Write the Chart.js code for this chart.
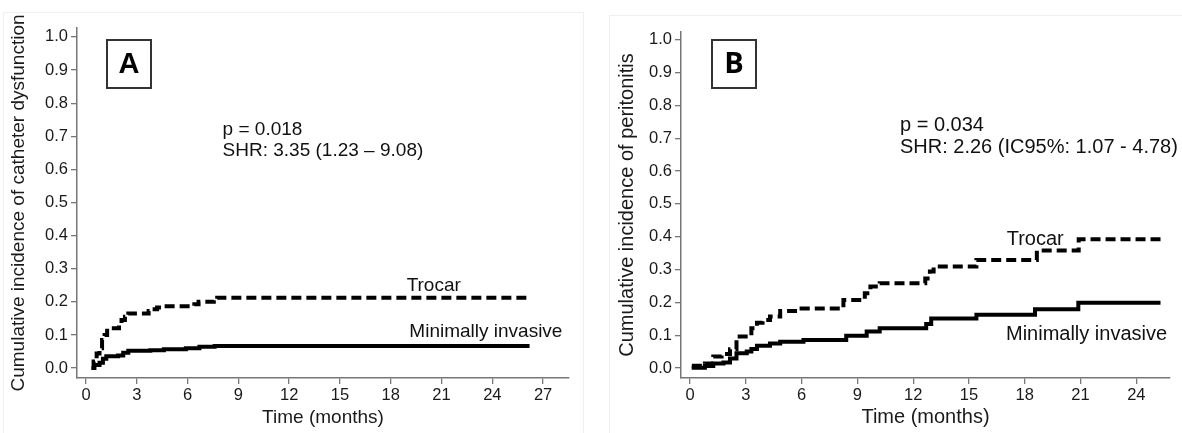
<!DOCTYPE html>
<html><head><meta charset="utf-8">
<script src="https://cdn.jsdelivr.net/npm/chart.js@4.4.1/dist/chart.umd.min.js"></script>
<style>
html,body{margin:0;padding:0;background:#fff;width:1182px;height:433px;overflow:hidden}
.p{position:absolute;top:0;width:591px;height:433px}
canvas{display:block}
</style></head><body>
<div class="p" style="left:0"><canvas id="a" width="591" height="433"></canvas></div>
<div class="p" style="left:591px"><canvas id="b" width="591" height="433"></canvas></div>
<script>
// ---- Data ----
const yTicks = [0,0.1,0.2,0.3,0.4,0.5,0.6,0.7,0.8,0.9,1.0];
const xTicksA = [0,3,6,9,12,15,18,21,24,27];
const xTicksB = [0,3,6,9,12,15,18,21,24];

const seriesNames = ['Trocar','Minimally invasive'];

const trocarA_t = [0.33,0.45,0.63,0.8,0.95,1.1,1.25,1.95,2.1,2.3,2.5,3.7,3.9,4.2,4.6,6.4,6.65,7.55,7.75,26.1];
const trocarA_v = [0,0.02,0.044,0.06,0.085,0.1,0.12,0.13,0.145,0.155,0.165,0.172,0.178,0.183,0.187,0.193,0.2,0.205,0.212,0.212];
const minA_t = [0.33,0.5,0.8,1.0,1.2,1.9,2.2,2.5,3.8,4.6,5.9,6.7,7.6,26.2];
const minA_v = [0,0.009,0.016,0.028,0.036,0.038,0.046,0.052,0.054,0.057,0.06,0.064,0.067,0.067];

const trocarB_t = [0.1,0.8,1.25,1.7,2.15,2.5,3.3,3.6,3.9,4.3,4.85,6.0,8.25,9.4,9.7,10.2,12.65,12.9,13.1,15.4,18.65,20.9,25.3];
const trocarB_v = [0.007,0.014,0.035,0.043,0.057,0.096,0.121,0.138,0.146,0.157,0.174,0.181,0.207,0.228,0.248,0.258,0.273,0.294,0.309,0.329,0.358,0.392,0.392];
const minB_t = [0.09,0.8,1.25,1.8,2.15,2.5,3.05,3.3,3.6,4.3,4.85,6.1,8.4,9.5,10.2,12.7,12.97,15.4,18.55,20.88,25.3];
const minB_v = [0.001,0.006,0.014,0.017,0.029,0.045,0.05,0.058,0.068,0.075,0.08,0.085,0.098,0.111,0.121,0.134,0.151,0.162,0.179,0.199,0.199];

const statsA = ['p = 0.018','SHR: 3.35 (1.23 \u2013 9.08)'];
const statsB = ['p = 0.034','SHR: 2.26 (IC95%: 1.07 - 4.78)'];

// ---- Helpers ----
const FONT = "'Liberation Sans', Arial, Helvetica, sans-serif";
const pts = (t,v) => t.map((x,i)=>({x:x,y:v[i]}));

function makeChart(id, o){
  const overlay = {
    id:'overlay',
    beforeDraw(chart){
      const c = chart.ctx;
      c.save();
      c.strokeStyle = '#efefef'; c.lineWidth = 1;
      c.strokeRect(o.frame[0]+0.5, o.frame[1]+0.5, o.frame[2], o.frame[3]);
      c.restore();
    },
    afterDatasetsDraw(chart){
      const c = chart.ctx, xs = chart.scales.x, ys = chart.scales.y;
      c.save();
      c.fillStyle = '#111';
      c.textAlign = 'left'; c.textBaseline = 'alphabetic';
      c.font = o.annSize + 'px ' + FONT;
      o.stats.forEach((s,i)=>{
        c.fillText(s, xs.getPixelForValue(o.statPos[i][0]), ys.getPixelForValue(o.statPos[i][1]));
      });
      o.labels.forEach((s,i)=>{
        c.fillText(s, xs.getPixelForValue(o.labelPos[i][0]), ys.getPixelForValue(o.labelPos[i][1]));
      });
      // panel letter box
      const b = o.box;
      c.fillStyle = '#fff';
      c.fillRect(b[0], b[1], b[2], b[3]);
      c.strokeStyle = '#333'; c.lineWidth = 2;
      c.strokeRect(b[0], b[1], b[2], b[3]);
      c.fillStyle = '#000';
      c.font = 'bold ' + o.letterSize + 'px ' + o.letterFont;
      c.textAlign = 'center'; c.textBaseline = 'middle';
      c.fillText(o.letter, b[0]+b[2]/2, b[1]+b[3]/2+1);
      c.restore();
    }
  };
  return new Chart(document.getElementById(id), {
    type:'line',
    data:{ datasets:[
      { label:seriesNames[0], data:pts(o.tT,o.tV), stepped:'before', borderColor:'#000', borderWidth:4,
        borderDash:[10,5], borderCapStyle:'butt', pointRadius:0, fill:false },
      { label:seriesNames[1], data:pts(o.mT,o.mV), stepped:'before', borderColor:'#000', borderWidth:4,
        borderCapStyle:'butt', pointRadius:0, fill:false }
    ]},
    options:{
      responsive:false, animation:false, devicePixelRatio:1,
      layout:{ padding:{ left:o.padL, top:o.area.top, right:591-o.area.right, bottom:0 } },
      plugins:{ legend:{display:false}, tooltip:{enabled:false} },
      scales:{
        x:{ type:'linear', min:o.xMin, max:o.xMax,
          afterBuildTicks:s=>{ s.ticks = o.xTicks.map(v=>({value:v})); },
          afterFit:s=>{ s.height = 433 - o.area.bottom; },
          ticks:{ autoSkip:false, maxRotation:0, padding:2, color:'#1a1a1a',
            font:{family:FONT, size:16.5}, callback:v=>String(v) },
          grid:{ drawOnChartArea:false, drawTicks:true, tickLength:6, color:'#777', lineWidth:1.3 },
          border:{ display:true, color:'#777', width:1.5 },
          title:{ display:true, text:'Time (months)', color:'#1a1a1a',
            font:{family:FONT, size:o.titleSize}, padding:{top:0,bottom:4} }
        },
        y:{ type:'linear', min:o.yMin, max:o.yMax,
          afterBuildTicks:s=>{ s.ticks = yTicks.map(v=>({value:v})); },
          afterFit:s=>{ s.width = o.area.left - o.padL; },
          ticks:{ autoSkip:false, padding:3, color:'#1a1a1a',
            font:{family:FONT, size:16.5}, callback:v=>Number(v).toFixed(1) },
          grid:{ drawOnChartArea:false, drawTicks:true, tickLength:6, color:'#777', lineWidth:1.3 },
          border:{ display:true, color:'#777', width:1.5 },
          title:{ display:true, text:o.yTitle, color:'#1a1a1a',
            font:{family:FONT, size:o.titleSize}, padding:{top:4,bottom:0} }
        }
      }
    },
    plugins:[overlay]
  });
}

makeChart('a', {
  tT:trocarA_t, tV:trocarA_v, mT:minA_t, mV:minA_v,
  xTicks:xTicksA, xMin:-0.53, xMax:28.53, yMin:-0.030, yMax:1.027,
  area:{left:77, top:28, right:569, bottom:378}, padL:3,
  yTitle:'Cumulative incidence of catheter dysfunction', titleSize:19,
  stats:statsA, statPos:[[8.07,0.704],[8.07,0.640]],
  labels:seriesNames, labelPos:[[18.94,0.2335],[19.1,0.0946]], annSize:19,
  box:[107,40,44,48], letter:'A', letterSize:29, letterFont:FONT,
  frame:[3,12,580,440]
});

makeChart('b', {
  tT:trocarB_t, tV:trocarB_v, mT:minB_t, mV:minB_v,
  xTicks:xTicksB, xMin:-0.484, xMax:25.81, yMin:-0.0305, yMax:1.024,
  area:{left:90, top:32, right:579, bottom:378}, padL:20,
  yTitle:'Cumulative incidence of peritonitis', titleSize:20,
  stats:statsB, statPos:[[11.29,0.722],[11.29,0.655]],
  labels:seriesNames, labelPos:[[17.03,0.375],[16.99,0.0854]], annSize:20,
  box:[121,40,44,48], letter:'B', letterSize:29, letterFont:"'Open Sans', 'Liberation Sans', sans-serif",
  frame:[18,15,600,440]
});
</script>
</body></html>
